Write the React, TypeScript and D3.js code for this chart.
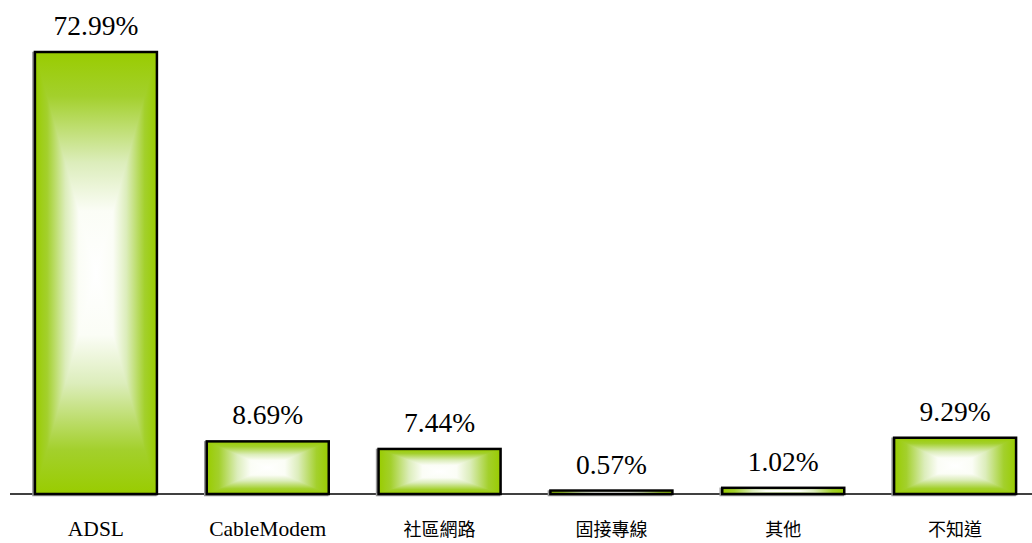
import React from "react";
import * as d3 from "d3";

const categories = ["ADSL", "CableModem", "社區網路", "固接專線", "其他", "不知道"];
const values = [72.99, 8.69, 7.44, 0.57, 1.02, 9.29];
const valueLabels = ["72.99%", "8.69%", "7.44%", "0.57%", "1.02%", "9.29%"];

const W = 1032;
const H = 543;
const baseY = 494;

const GREEN = "#99cc00";
const FONT = '"Liberation Serif", "Times New Roman", "Noto Sans CJK TC", serif';

const App: React.FC = () => {
  const x = d3.scaleBand<string>().domain(categories).range([10, 1041]).paddingInner(0.29).paddingOuter(0.145);
  const y = d3.scaleLinear().domain([0, 72.99]).range([baseY, 52]);

  // rectangular "from centre" gradient: four triangles each with a linear ramp
  const stops = (
    <>
      <stop offset="0" stopColor={GREEN} />
      <stop offset="0.2" stopColor="#a3d02c" />
      <stop offset="0.5" stopColor="#dcedbb" />
      <stop offset="0.72" stopColor="#fbfdf6" />
      <stop offset="1" stopColor="#ffffff" />
    </>
  );

  const isCjk = (s: string) => /[\u4e00-\u9fff]/.test(s);

  return (
    <svg
      width={W}
      height={H}
      style={{ position: "absolute", left: 0, top: 0, display: "block", background: "#fff", fontFamily: FONT }}
    >
      <defs>
        <linearGradient id="gTop" x1="0" y1="0" x2="0" y2="1">{stops}</linearGradient>
        <linearGradient id="gBot" x1="0" y1="1" x2="0" y2="0">{stops}</linearGradient>
        <linearGradient id="gLeft" x1="0" y1="0" x2="1" y2="0">{stops}</linearGradient>
        <linearGradient id="gRight" x1="1" y1="0" x2="0" y2="0">{stops}</linearGradient>
      </defs>

      <line x1={10} x2={W} y1={baseY} y2={baseY} stroke="#000" strokeWidth={1.5} />

      {categories.map((c, i) => {
        const x0 = x(c)!;
        const x1 = x0 + x.bandwidth();
        const y0 = y(values[i]);
        const y1 = y(0);
        const cx = (x0 + x1) / 2;
        const cy = (y0 + y1) / 2;
        return (
          <g key={c}>
            <rect x={x0 - 1.5} y={y0 + 1} width={x1 - x0} height={y1 - y0} fill="none" stroke="#999" strokeWidth={2.5} />
            <g shapeRendering="crispEdges">
              <polygon points={`${x0},${y0} ${x1},${y0} ${cx},${cy}`} fill="url(#gTop)" />
              <polygon points={`${x0},${y1} ${x1},${y1} ${cx},${cy}`} fill="url(#gBot)" />
              <polygon points={`${x0},${y0} ${x0},${y1} ${cx},${cy}`} fill="url(#gLeft)" />
              <polygon points={`${x1},${y0} ${x1},${y1} ${cx},${cy}`} fill="url(#gRight)" />
            </g>
            <rect x={x0} y={y0} width={x1 - x0} height={y1 - y0} fill="none" stroke="#000" strokeWidth={2.5} />
            <text x={cx} y={y0 - 17} textAnchor="middle" fontSize={27.5} fill="#000">
              {valueLabels[i]}
            </text>
            <text x={cx} y={536} textAnchor="middle" fontSize={isCjk(c) ? 18 : 21.5} fill="#000">
              {c}
            </text>
          </g>
        );
      })}
    </svg>
  );
};

export default App;
